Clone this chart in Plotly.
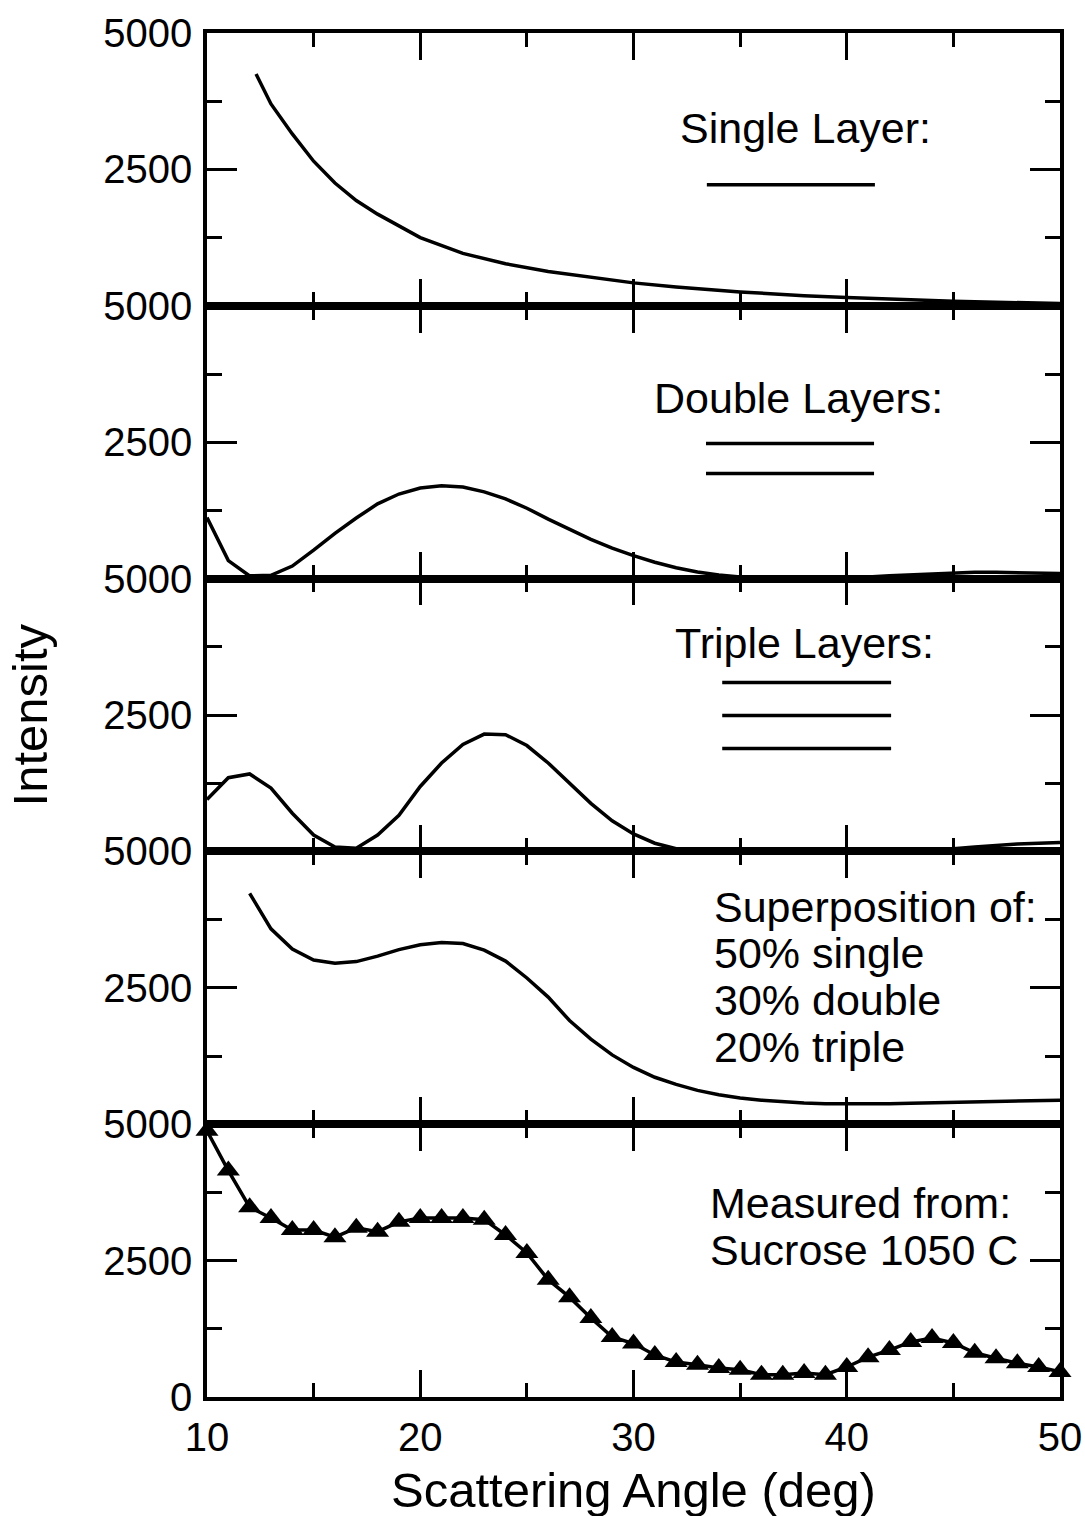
import plotly.graph_objects as go
from plotly.subplots import make_subplots

# ---------------- data ----------------
angle = list(range(10, 51))

single_x = [12.3, 13, 14, 15, 16, 17, 18, 19, 20, 22, 24, 26, 28, 30, 32, 35, 38, 40, 45, 50]
single_y = [4250, 3700, 3150, 2650, 2250, 1930, 1680, 1460, 1250, 960, 770, 630, 520, 420,
            345, 255, 185, 150, 85, 40]

double_y = [1120, 330, 50, 60, 230, 520, 830, 1110, 1370, 1550, 1660, 1700, 1680, 1590,
            1460, 1290, 1090, 900, 720, 560, 420, 300, 200, 120, 65, 30, 10, 0, 0, 5, 15,
            30, 50, 70, 90, 105, 115, 115, 110, 100, 95]

triple_y = [950, 1350, 1420, 1160, 700, 300, 80, 60, 300, 660, 1190, 1620, 1960, 2150,
            2140, 1940, 1620, 1250, 880, 560, 320, 150, 50, 10, 0, 20, 30, 35, 30, 20, 10,
            5, 5, 10, 25, 50, 80, 110, 135, 150, 165]

super_x = list(range(12, 51))
super_y = [4230, 3580, 3210, 3010, 2950, 2980, 3080, 3200, 3290, 3330, 3310, 3190, 2990,
           2680, 2330, 1900, 1560, 1270, 1040, 860, 730, 620, 540, 480, 440, 410, 390, 375,
           370, 370, 375, 385, 395, 405, 415, 425, 430, 435, 440]

measured_y = [4880, 4150, 3480, 3280, 3060, 3060, 2930, 3100, 3030, 3210, 3280, 3280, 3280,
              3250, 2970, 2640, 2150, 1830, 1450, 1100, 980, 770, 640, 590, 530, 500, 410,
              410, 440, 410, 550, 730, 860, 1010, 1080, 990, 810, 710, 620, 550, 460]

x_ticks = [10, 20, 30, 40, 50]
x_minor = [15, 25, 35, 45]
y_ticks = [0, 2500, 5000]
y_minor = [1250, 3750]

panel_labels = ["Single Layer:", "Double Layers:", "Triple Layers:"]
super_lines = ["Superposition of:", "50% single", "30% double", "20% triple"]
measured_lines = ["Measured from:", "Sucrose 1050 C"]

FONT = "Liberation Sans, Arial, Helvetica, sans-serif"
LW = 3.5

fig = make_subplots(rows=5, cols=1, shared_xaxes=False, vertical_spacing=0)

line = dict(color="black", width=LW)
fig.add_trace(go.Scatter(x=single_x, y=single_y, mode="lines", line=line), row=1, col=1)
fig.add_trace(go.Scatter(x=angle, y=double_y, mode="lines", line=line), row=2, col=1)
fig.add_trace(go.Scatter(x=angle, y=triple_y, mode="lines", line=line), row=3, col=1)
fig.add_trace(go.Scatter(x=super_x, y=super_y, mode="lines", line=line), row=4, col=1)
fig.add_trace(go.Scatter(x=angle, y=measured_y, mode="lines+markers", line=line,
                         marker=dict(symbol="triangle-up", size=20, color="black"),
                         cliponaxis=False), row=5, col=1)

for r in range(1, 6):
    fig.update_xaxes(
        range=[10, 50], tickvals=x_ticks, showgrid=False, zeroline=False, automargin=False,
        showline=True, linecolor="black", linewidth=LW, mirror="allticks",
        ticks="inside", ticklen=27, tickwidth=3, tickcolor="black",
        minor=dict(tickvals=x_minor, ticks="inside", ticklen=14, tickwidth=3,
                   tickcolor="black", showgrid=False),
        showticklabels=(r == 5), tickfont=dict(size=40, color="black", family=FONT),
        ticklabelstandoff=2,
        row=r, col=1)
    fig.update_yaxes(
        range=[0, 5000], tickvals=y_ticks, automargin=False,
        ticktext=(["0", "2500", "5000"] if r == 5 else ["", "2500", "5000"]),
        showgrid=False, zeroline=False,
        showline=True, linecolor="black", linewidth=LW, mirror="allticks",
        ticks="inside", ticklen=30, tickwidth=3, tickcolor="black",
        minor=dict(tickvals=y_minor, ticks="inside", ticklen=15, tickwidth=3,
                   tickcolor="black", showgrid=False),
        tickfont=dict(size=40, color="black", family=FONT),
        ticklabelstandoff=3,
        row=r, col=1)

ann_font = dict(size=43, color="black", family=FONT)
annotations = []
label_pos = [(0.702, 0.652), (0.693, 0.6635), (0.700, 0.7625)]
for i, (txt, (ax_, ay_)) in enumerate(zip(panel_labels, label_pos)):
    ref = "" if i == 0 else str(i + 1)
    annotations.append(dict(text=txt, x=ax_, y=ay_, xref=f"x{ref} domain", yref=f"y{ref} domain",
                            showarrow=False, font=ann_font, xanchor="center", yanchor="middle"))
for txt, ay_ in zip(super_lines, [0.7955, 0.627, 0.4545, 0.282]):
    annotations.append(dict(text=txt, x=0.592, y=ay_, xref="x4 domain", yref="y4 domain",
                            showarrow=False, font=ann_font, xanchor="left", yanchor="middle"))
for txt, ay_ in zip(measured_lines, [0.711, 0.539]):
    annotations.append(dict(text=txt, x=0.587, y=ay_, xref="x5 domain", yref="y5 domain",
                            showarrow=False, font=ann_font, xanchor="left", yanchor="middle"))
annotations.append(dict(text="Intensity", x=-0.207, y=0.5, xref="paper", yref="paper",
                        textangle=-90, showarrow=False,
                        font=dict(size=49, color="black", family=FONT),
                        xanchor="center", yanchor="middle"))
annotations.append(dict(text="Scattering Angle (deg)", x=0.5, y=-0.068, xref="paper", yref="paper",
                        showarrow=False, font=dict(size=49, color="black", family=FONT),
                        xanchor="center", yanchor="middle"))

shapes = []
def seg(ref, x0, x1, y):
    shapes.append(dict(type="line", xref=f"x{ref} domain", yref=f"y{ref} domain",
                       x0=x0, x1=x1, y0=y, y1=y, line=dict(color="black", width=LW)))
seg("", 0.586, 0.783, 0.4435)
seg("2", 0.585, 0.782, 0.495)
seg("2", 0.585, 0.782, 0.385)
for yy in [0.6195, 0.4985, 0.3776]:
    seg("3", 0.604, 0.802, yy)

fig.update_layout(
    width=1085, height=1516,
    margin=dict(l=207, r=25, t=33, b=119, autoexpand=False),
    plot_bgcolor="white", paper_bgcolor="white",
    showlegend=False,
    annotations=annotations, shapes=shapes,
    font=dict(family=FONT, color="black"),
)

fig.write_html("out.html")
